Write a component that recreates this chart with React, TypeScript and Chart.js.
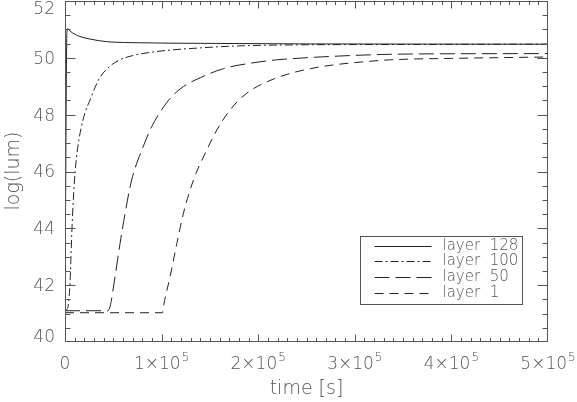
import React, { useEffect, useRef } from "react";
import { Chart, registerables } from "chart.js";

Chart.register(...registerables);

// ---- data (time in s, log luminosity) ----
const layer128Time = [0, 2000, 3000, 5000, 10000, 15500, 26000, 43000, 78000, 140000, 250000, 500000];
const layer128Lum = [41.45, 50.9, 51.03, 50.95, 50.83, 50.75, 50.66, 50.57, 50.53, 50.51, 50.49, 50.48];

const layer100Time = [0, 2000, 3400, 5200, 7000, 8600, 10500, 13000, 16500, 21000, 26000, 31000, 36000, 45000, 55000, 70000, 90000, 105000, 140000, 180000, 250000, 350000, 500000];
const layer100Lum = [41.1, 41.15, 41.3, 42.1, 43.8, 45.0, 46.0, 46.8, 47.5, 48.1, 48.52, 48.95, 49.3, 49.66, 49.9, 50.08, 50.2, 50.26, 50.35, 50.42, 50.46, 50.47, 50.48];

const layer50Time = [0, 44000, 46600, 51800, 57000, 62200, 69000, 81000, 89800, 100000, 110600, 122600, 140000, 164000, 191700, 219000, 243500, 295000, 347000, 500000];
const layer50Lum = [41.1, 41.1, 41.24, 42.3, 43.47, 44.53, 45.7, 46.88, 47.58, 48.17, 48.64, 48.99, 49.3, 49.62, 49.81, 49.93, 49.99, 50.08, 50.13, 50.15];

const layer1Time = [0, 101000, 101900, 108800, 115800, 122600, 133000, 146800, 157200, 171000, 188300, 210000, 230000, 254000, 277700, 305700, 336800, 400000, 500000];
const layer1Lum = [41.03, 41.03, 41.24, 42.3, 43.47, 44.53, 45.7, 46.76, 47.46, 48.17, 48.76, 49.17, 49.42, 49.62, 49.75, 49.85, 49.93, 49.98, 50.03];

const seriesLabels = ["layer  128", "layer  100", "layer  50", "layer  1"];

// ---- axis ticks ----
const xTickValues = [0, 100000, 200000, 300000, 400000, 500000];
const xTickMantissa = ["0", "1×10", "2×10", "3×10", "4×10", "5×10"];
const xTickExponent = ["", "5", "5", "5", "5", "5"];
const xMinorStep = 10000;
const yTickValues = [40, 42, 44, 46, 48, 50, 52];
const yTickLabels = ["40", "42", "44", "46", "48", "50", "52"];
const yMinorStep = 0.5;

const FONT = '"DejaVu Sans", "Liberation Sans", sans-serif';
const INK = "#555";
const LINE = "#222";

const idlPlugin = {
  id: "idlAxes",
  afterDraw(chart: any) {
    const ctx = chart.ctx as CanvasRenderingContext2D;
    const { left, right, top, bottom } = chart.chartArea;
    const xs = chart.scales.x;
    const ys = chart.scales.y;
    ctx.save();
    ctx.strokeStyle = INK;
    ctx.lineWidth = 1;
    const L = Math.round(left) + 0.5;
    const R = Math.round(right) - 0.5;
    const T = Math.round(top) + 0.5;
    const B = Math.round(bottom) - 0.5;
    ctx.strokeRect(L, T, R - L, B - T);

    ctx.beginPath();
    for (let v = xs.min; v <= xs.max + 1; v += xMinorStep) {
      const major = xTickValues.some((t) => Math.abs(t - v) < 1);
      const len = major ? 7 : 3.5;
      const px = Math.round(xs.getPixelForValue(v)) + 0.5;
      const p = Math.min(Math.max(px, L), R);
      ctx.moveTo(p, B);
      ctx.lineTo(p, B - len);
      ctx.moveTo(p, T);
      ctx.lineTo(p, T + len);
    }
    for (let v = ys.min; v <= ys.max + 1e-6; v += yMinorStep) {
      const major = yTickValues.some((t) => Math.abs(t - v) < 1e-6);
      const len = major ? 10 : 5;
      const py = Math.round(ys.getPixelForValue(v)) + 0.5;
      const p = Math.min(Math.max(py, T), B);
      ctx.moveTo(L, p);
      ctx.lineTo(L + len, p);
      ctx.moveTo(R, p);
      ctx.lineTo(R - len, p);
    }
    ctx.stroke();

    // tick labels
    ctx.fillStyle = INK;
    ctx.textBaseline = "middle";
    ctx.font = `200 17px ${FONT}`;
    ctx.textAlign = "right";
    yTickValues.forEach((v, i) => {
      let y = ys.getPixelForValue(v) + 1.5;
      y = Math.min(Math.max(y, 10), 337.5);
      ctx.fillText(yTickLabels[i], left - 10, y);
    });
    ctx.textAlign = "left";
    xTickValues.forEach((v, i) => {
      const cx = xs.getPixelForValue(v);
      ctx.font = `200 17px ${FONT}`;
      const w1 = ctx.measureText(xTickMantissa[i]).width;
      ctx.font = `200 12px ${FONT}`;
      const w2 = xTickExponent[i] ? ctx.measureText(xTickExponent[i]).width + 1 : 0;
      const x0 = cx - (w1 + w2) / 2;
      ctx.font = `200 17px ${FONT}`;
      ctx.fillText(xTickMantissa[i], x0, bottom + 23);
      if (xTickExponent[i]) {
        ctx.font = `200 12px ${FONT}`;
        ctx.fillText(xTickExponent[i], x0 + w1 + 1, bottom + 16);
      }
    });

    // axis titles
    ctx.font = `200 19px ${FONT}`;
    ctx.textAlign = "center";
    ctx.fillText("time [s]", (left + right) / 2, bottom + 47);
    ctx.save();
    ctx.translate(14, 171);
    ctx.rotate(-Math.PI / 2);
    ctx.fillText("log(lum)", 0, 0);
    ctx.restore();

    // legend
    const bw = 162;
    const bh = 68;
    const bx = Math.round(right - 26 - bw) + 0.5;
    const by = Math.round(bottom - 38 - bh) + 0.5;
    ctx.strokeStyle = INK;
    ctx.strokeRect(bx, by, bw, bh);
    ctx.font = `200 15px ${FONT}`;
    ctx.textAlign = "left";
    chart.data.datasets.forEach((ds: any, i: number) => {
      const y = Math.round(by + 9 + i * 15.8) + 0.5;
      ctx.save();
      ctx.strokeStyle = LINE;
      ctx.setLineDash(ds.borderDash || []);
      ctx.beginPath();
      ctx.moveTo(bx + 14, y);
      ctx.lineTo(bx + 71, y);
      ctx.stroke();
      ctx.restore();
      ctx.fillStyle = INK;
      ctx.fillText(ds.label, bx + 82, y);
    });
    ctx.restore();
  },
};

function pts(t: number[], v: number[]) {
  return t.map((x, i) => ({ x, y: v[i] }));
}

export default function App() {
  const ref = useRef<HTMLCanvasElement | null>(null);
  useEffect(() => {
    if (!ref.current) return;
    const common = {
      borderColor: LINE,
      borderWidth: 1,
      pointRadius: 0,
      fill: false,
      cubicInterpolationMode: "monotone" as const,
    };
    const chart = new Chart(ref.current, {
      type: "line",
      data: {
        datasets: [
          { ...common, label: seriesLabels[0], data: pts(layer128Time, layer128Lum), borderDash: [] },
          { ...common, label: seriesLabels[1], data: pts(layer100Time, layer100Lum), borderDash: [8, 3, 2, 3] },
          { ...common, label: seriesLabels[2], data: pts(layer50Time, layer50Lum), borderDash: [15, 6] },
          { ...common, label: seriesLabels[3], data: pts(layer1Time, layer1Lum), borderDash: [9, 6] },
        ],
      },
      options: {
        responsive: false,
        devicePixelRatio: 1,
        animation: false,
        layout: { padding: { left: 65, top: 1, right: 29, bottom: 60 } },
        plugins: { legend: { display: false }, tooltip: { enabled: false } },
        scales: {
          x: { type: "linear", min: 0, max: 500000, display: false },
          y: { type: "linear", min: 40, max: 52, display: false },
        },
      },
      plugins: [idlPlugin],
    });
    return () => chart.destroy();
  }, []);
  return (
    <div style={{ position: "absolute", left: 0, top: 0, width: 577, height: 402, background: "#fff" }}>
      <canvas ref={ref} width={577} height={402} style={{ width: 577, height: 402, display: "block" }} />
    </div>
  );
}
